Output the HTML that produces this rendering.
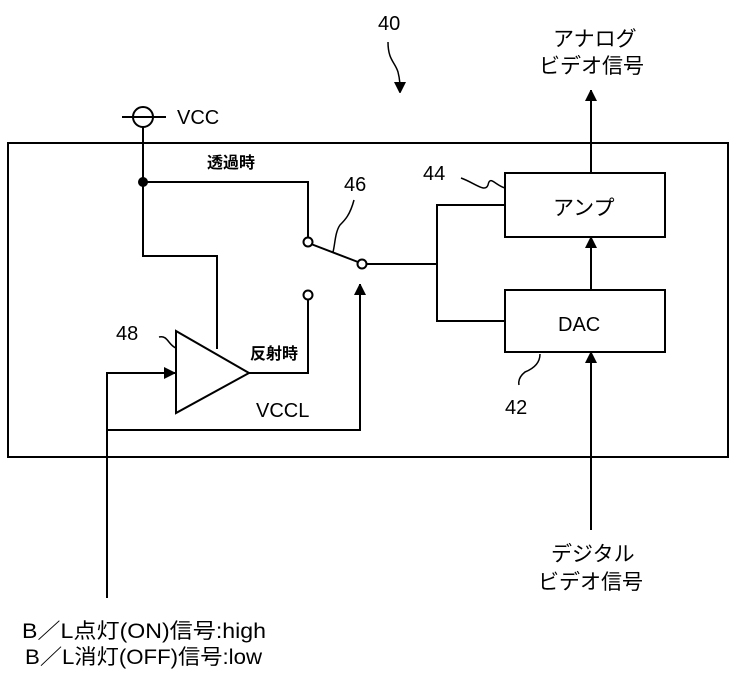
<!DOCTYPE html>
<html><head><meta charset="utf-8"><style>
body{margin:0;background:#fff}
svg{display:block}
text{font-family:"Liberation Sans","Noto Sans CJK JP",sans-serif;fill:#000}
</style></head><body>
<svg width="738" height="678" viewBox="0 0 738 678" xmlns="http://www.w3.org/2000/svg">
<defs><marker id="a" markerWidth="10" markerHeight="12" refX="11" refY="6" orient="auto" markerUnits="userSpaceOnUse"><path d="M0,0 L12,6 L0,12 z" fill="#000"/></marker></defs>
<g stroke="#000" stroke-width="2" fill="none">
<rect x="8" y="143" width="720" height="314"/>
<circle cx="143" cy="117" r="10"/>
<line x1="122" y1="117" x2="166" y2="117"/>
<polyline points="143,127 143,256 217,256 217,349"/>
<polyline points="143,182 308,182 308,238"/>
<circle cx="308" cy="242" r="4.5"/>
<circle cx="308" cy="295" r="4.5"/>
<circle cx="362" cy="264" r="4.5"/>
<line x1="311" y1="244" x2="358" y2="262"/>
<polyline points="308,300 308,373 249,373"/>
<polygon points="176,331 176,413 249,373"/>
<polyline points="107,598 107,373 175,373" marker-end="url(#a)"/>
<polyline points="107,430 360,430 360,284" marker-end="url(#a)"/>
<line x1="367" y1="264" x2="437" y2="264"/>
<polyline points="505,205 437,205 437,321 505,321"/>
<rect x="505" y="173" width="160" height="64"/>
<rect x="505" y="290" width="160" height="62"/>
<line x1="591" y1="290" x2="591" y2="237" marker-end="url(#a)"/>
<line x1="591" y1="173" x2="591" y2="90" marker-end="url(#a)"/>
<line x1="591" y1="530" x2="591" y2="352" marker-end="url(#a)"/>
<path d="M388,42 C388,60 395,62 398,72 C400,80 400,84 400,93" marker-end="url(#a)" stroke-width="1.5"/>
<path d="M461,178 C475,183 485,193 488,185 C490,175 495,185 505,188" stroke-width="1.5"/>
<path d="M354,200 C350,215 345,220 340,225 C335,232 335,245 333,252" stroke-width="1.5"/>
<path d="M159,337 C168,335 168,345 176,348" stroke-width="1.5"/>
<path d="M540,354 C540,362 535,368 525,372 C520,376 518,380 519,385" stroke-width="1.5"/>
</g>
<circle cx="143" cy="182" r="5" fill="#000"/>
<g font-size="20">
<text x="177" y="124">VCC</text>
<text x="378" y="30">40</text>
<text x="344" y="191">46</text>
<text x="423" y="180">44</text>
<text x="116" y="340">48</text>
<text x="505" y="414">42</text>
<text x="256" y="417">VCCL</text>
<text x="558" y="331">DAC</text>
</g>
<g font-size="16" font-weight="bold">
<text x="207" y="168">透過時</text>
<text x="250" y="359">反射時</text>
</g>
<g font-size="21">
<text x="553" y="46">アナログ</text>
<text x="539" y="73">ビデオ信号</text>
<text x="553" y="215">アンプ</text>
<text x="551" y="561">デジタル</text>
<text x="538" y="589">ビデオ信号</text>
<text x="22" y="638" textLength="244" lengthAdjust="spacingAndGlyphs">B／L点灯(ON)信号:high</text>
<text x="25" y="664" textLength="237" lengthAdjust="spacingAndGlyphs">B／L消灯(OFF)信号:low</text>
</g>
</svg>
</body></html>
